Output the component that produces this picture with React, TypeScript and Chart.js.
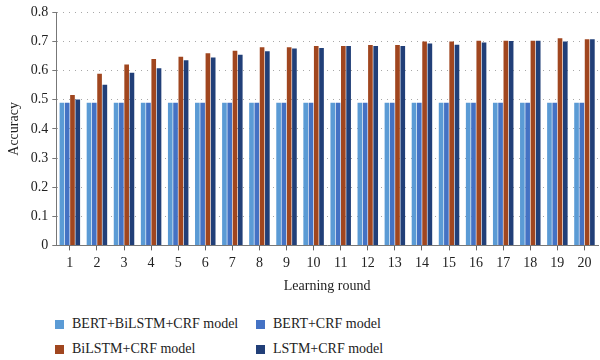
import React, { useEffect, useRef } from "react";
import { Chart, registerables } from "chart.js";

Chart.register(...registerables);

const categories = ["1","2","3","4","5","6","7","8","9","10","11","12","13","14","15","16","17","18","19","20"];
const bertBilstmCrf = [0.49,0.49,0.49,0.49,0.49,0.49,0.49,0.49,0.49,0.49,0.49,0.49,0.49,0.49,0.49,0.49,0.49,0.49,0.49,0.49];
const bertCrf = [0.49,0.49,0.49,0.49,0.49,0.49,0.49,0.49,0.49,0.49,0.49,0.49,0.49,0.49,0.49,0.49,0.49,0.49,0.49,0.49];
const bilstmCrf = [0.516,0.589,0.621,0.64,0.648,0.66,0.668,0.68,0.68,0.685,0.685,0.688,0.688,0.7,0.7,0.703,0.703,0.703,0.711,0.708];
const lstmCrf = [0.501,0.552,0.593,0.608,0.636,0.645,0.655,0.667,0.676,0.678,0.685,0.685,0.685,0.693,0.689,0.697,0.702,0.703,0.7,0.708];
const seriesNames = ["BERT+BiLSTM+CRF model", "BERT+CRF model", "BiLSTM+CRF model", "LSTM+CRF model"];
const colors = ["#5B9BD5", "#4472C4", "#A0461F", "#213F78"];
const yTicks = [0, 0.1, 0.2, 0.3, 0.4, 0.5, 0.6, 0.7, 0.8];

const FONT = "'Liberation Serif', 'DejaVu Serif', serif";

export default function App() {
  const ref = useRef<HTMLCanvasElement | null>(null);
  useEffect(() => {
    if (!ref.current) return;
    const values = [bertBilstmCrf, bertCrf, bilstmCrf, lstmCrf];
    const chart = new Chart(ref.current, {
      type: "bar",
      data: {
        labels: categories,
        datasets: values.map((v, i) => ({
          label: seriesNames[i],
          data: v,
          backgroundColor: colors[i],
          borderWidth: 0,
          barPercentage: 0.88,
          categoryPercentage: 0.78,
        })),
      },
      options: {
        animation: false,
        responsive: false,
        maintainAspectRatio: false,
        layout: { padding: { left: 6, right: 2, top: 0, bottom: 0 } },
        plugins: {
          legend: { display: false },
          tooltip: { enabled: false },
        },
        scales: {
          x: {
            grid: {
              display: true,
              drawOnChartArea: false,
              drawTicks: true,
              tickLength: 5,
              offset: false,
              color: "#666",
            },
            border: { display: true, color: "#777", width: 1 },
            ticks: { color: "#222", font: { family: FONT, size: 14 }, padding: 5, maxRotation: 0, autoSkip: false },
            title: { display: true, text: "Learning round", color: "#222", font: { family: FONT, size: 14 }, padding: { top: 1, bottom: 0 } },
          },
          y: {
            min: 0,
            max: 0.8,
            afterBuildTicks: (axis: any) => {
              axis.ticks = yTicks.map((v) => ({ value: v }));
            },
            grid: {
              display: true,
              drawOnChartArea: true,
              drawTicks: true,
              tickLength: 4,
              color: (ctx: any) => (ctx.tick && ctx.tick.value === 0 ? "rgba(0,0,0,0)" : "#a8a8a8"),
              tickColor: "#777",
              tickBorderDash: [],
            },
            border: { display: true, color: "#777", width: 1, dash: [1, 5] },
            ticks: {
              color: "#222",
              font: { family: FONT, size: 14 },
              padding: 4,
              callback: (v: any) => (v === 0 ? "0" : Number(v).toFixed(1)),
            },
            title: { display: true, text: "Accuracy", color: "#222", font: { family: FONT, size: 14 }, padding: { top: 0, bottom: 4 } },
          },
        },
      },
    });
    return () => chart.destroy();
  }, []);

  const legendItem = (i: number, left: number, top: number) => (
    <div key={i} style={{ position: "absolute", left, top, display: "flex", alignItems: "center", fontFamily: FONT, fontSize: 14, color: "#222", whiteSpace: "nowrap" }}>
      <span style={{ display: "inline-block", width: 9, height: 9, background: colors[i], marginRight: 8 }} />
      <span>{seriesNames[i]}</span>
    </div>
  );

  return (
    <div style={{ position: "fixed", left: 0, top: 0, width: 600, height: 360, background: "#fff" }}>
      <canvas ref={ref} width={600} height={295} style={{ position: "absolute", left: 0, top: 0 }} />
      {legendItem(0, 55, 316)}
      {legendItem(1, 256, 316)}
      {legendItem(2, 55, 341)}
      {legendItem(3, 256, 341)}
    </div>
  );
}
